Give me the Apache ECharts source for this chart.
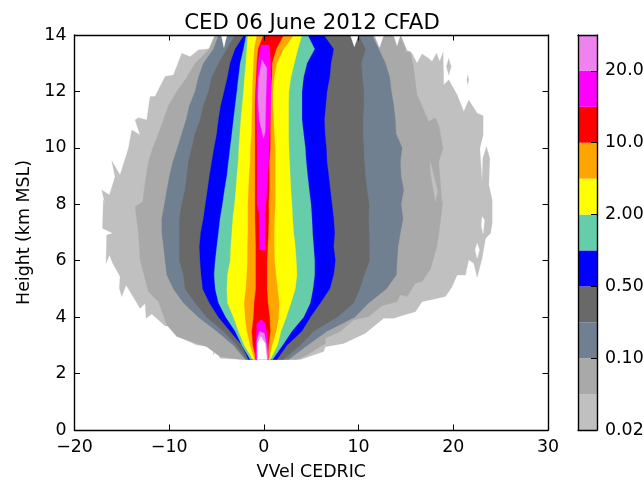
<!DOCTYPE html>
<html>
<head>
<meta charset="utf-8">
<style>html,body{margin:0;padding:0;background:#fff}#c{width:644px;height:480px}</style>
<script src="https://cdn.jsdelivr.net/npm/echarts@6/dist/echarts.min.js"></script>
</head>
<body>
<div id="c"></div>
<script>
const heights = [2.5,3,3.5,4,4.5,5,5.5,6,6.5,7,7.5,8,8.5,9,9.5,10,10.5,11,11.5,12,12.5,13,13.5,14];

const slateLeft = [-1.97,-3.21,-4.97,-6.91,-8.49,-9.55,-10.25,-10.43,-10.60,-10.78,-10.78,-10.50,-10.25,-9.97,-9.62,-9.13,-8.67,-8.21,-7.86,-7.26,-6.91,-6.38,-5.32,-4.79];
const slateRight = [2.61,4.61,6.66,9.58,11.06,12.93,13.99,14.06,14.17,14.41,14.69,14.48,14.76,14.48,14.41,14.59,13.95,13.88,13.71,13.46,13.28,12.83,12.12,11.41];
const dimLeft = [-1.80,-2.85,-4.26,-6.03,-7.26,-8.32,-8.49,-8.91,-8.91,-8.91,-8.91,-8.67,-8.32,-8.14,-7.96,-7.61,-7.26,-6.73,-6.38,-5.85,-5.50,-4.79,-3.91,-3.03];
const dimRight = [2.05,3.84,5.25,7.72,9.48,10.11,10.6,11.13,11.13,11.10,11.06,11.10,10.89,10.71,10.6,10.54,10.46,10.46,10.54,10.54,10.39,10.29,10.71,10.0];
const blueLeft = [-1.62,-2.33,-3.56,-4.79,-5.74,-6.45,-6.62,-6.73,-6.80,-6.66,-6.38,-6.17,-5.95,-5.74,-5.50,-5.25,-4.97,-4.79,-4.55,-4.19,-3.84,-3.56,-3.03,-2.08];
const blueRight = [1.37,2.43,4.0,4.9,5.95,6.94,7.36,7.54,7.36,7.47,7.36,7.19,7.01,6.84,6.66,6.59,6.45,6.38,6.52,6.66,6.94,7.08,7.36,6.31];
const aquaLeft = [-1.44,-2.33,-3.03,-4.02,-4.79,-5.14,-5.25,-5.14,-4.97,-4.79,-4.62,-4.37,-4.16,-3.91,-3.74,-3.56,-3.38,-3.21,-3.03,-2.85,-2.68,-2.50,-2.15,-1.87];
const aquaRight = [0.92,1.97,2.96,4.19,4.90,5.18,5.36,5.36,5.25,5.14,5.07,4.97,4.79,4.62,4.47,4.37,4.19,4.02,4.02,4.02,4.19,4.55,5.36,4.62];
const yellowLeft = [-1.16,-2.08,-2.68,-3.21,-3.84,-3.91,-3.84,-3.56,-3.49,-3.38,-3.28,-3.10,-2.96,-2.85,-2.71,-2.64,-2.54,-2.43,-2.29,-2.15,-2.04,-1.90,-1.80,-1.69];
const yellowRight = [0.67,1.44,1.80,2.36,2.85,3.31,3.49,3.42,3.31,3.14,3.03,2.96,2.85,2.78,2.71,2.64,2.61,2.61,2.61,2.64,2.85,3.21,3.59,4.02];
const orangeLeft = [-0.99,-1.44,-1.80,-1.97,-2.08,-1.90,-1.80,-1.73,-1.73,-1.69,-1.69,-1.69,-1.62,-1.55,-1.44,-1.41,-1.30,-1.27,-1.23,-1.20,-1.16,-1.09,-1.02,-0.74];
const orangeRight = [0.53,0.85,1.30,1.55,1.62,1.44,1.27,1.13,1.09,1.09,1.13,1.20,1.20,1.20,1.20,1.20,1.09,1.02,0.95,0.95,1.09,1.37,2.08,3.14];
const redLeft = [-0.81,-1.16,-1.27,-1.09,-1.02,-0.85,-0.85,-0.85,-0.85,-0.88,-0.92,-0.92,-0.92,-0.92,-0.92,-0.92,-0.92,-0.92,-0.92,-0.88,-0.81,-0.74,-0.60,-0.04];
const redRight = [0.39,0.49,0.67,0.60,0.42,0.32,0.32,0.32,0.39,0.46,0.49,0.49,0.56,0.56,0.56,0.67,0.67,0.67,0.67,0.67,0.85,0.85,1.30,2.08];

const lightOutline = [[-2.15,2.5],[-4.62,2.54],[-4.97,2.95],[-5.32,2.66],[-5.32,2.95],[-7.08,3.01],[-9.02,3.31],[-9.90,3.69],[-10.43,3.69],[-11.84,4.11],[-12.44,3.96],[-12.54,4.49],[-13.07,4.31],[-14.55,5.14],[-15.01,4.73],[-15.26,5.02],[-15.19,5.44],[-15.96,5.91],[-16.31,6.20],[-16.67,5.91],[-16.60,6.91],[-15.96,6.97],[-17.05,7.15],[-16.95,8.15],[-16.77,7.98],[-17.12,8.51],[-16.31,8.33],[-15.72,8.98],[-16.07,9.54],[-15.19,9.04],[-14.31,9.98],[-13.95,10.63],[-13.07,10.46],[-13.60,10.99],[-13.25,11.07],[-12.37,10.99],[-12.02,11.82],[-11.49,11.82],[-10.43,12.53],[-9.55,12.58],[-8.67,13.35],[-7.79,13.23],[-6.91,13.47],[-5.32,13.53],[-4.97,13.94],[-4.79,14],[14.41,14],[15.05,13.47],[15.64,13.35],[16.17,13.0],[16.70,13.33],[17.41,13.17],[17.76,13.06],[18.22,13.35],[18.57,13.06],[18.92,13.39],[18.99,12.23],[19.52,12.41],[20.40,11.88],[21.11,11.28],[21.63,11.70],[22.52,11.23],[23.15,11.14],[23.15,10.46],[22.80,9.98],[23.04,8.80],[23.12,9.63],[23.50,10.04],[23.85,9.63],[23.75,8.69],[24.10,8.15],[24.10,7.33],[23.93,6.97],[23.40,6.79],[23.04,6.09],[22.52,5.41],[22.16,5.91],[21.63,6.03],[21.28,5.49],[20.40,5.49],[19.87,5.08],[19.17,4.73],[16.70,4.55],[16.0,4.19],[14.76,4.08],[13.71,3.96],[12.65,3.96],[10.71,3.43],[8.42,3.07],[6.48,2.95],[6.31,2.78],[3.84,2.5]];
const grayOutline = [[-2.33,2.5],[-4.62,2.6],[-6.03,2.95],[-7.08,3.07],[-9.20,3.31],[-10.25,3.72],[-11.13,4.55],[-12.19,4.90],[-13.07,6.03],[-13.25,6.97],[-13.60,7.92],[-12.79,8.09],[-12.65,8.51],[-12.44,9.0],[-12.19,9.5],[-11.73,10.0],[-11.13,10.5],[-10.61,11.0],[-10.08,11.5],[-9.20,12.0],[-8.14,12.5],[-7.26,13.0],[-6.20,13.35],[-5.85,13.47],[-5.25,13.94],[-4.97,14],[13.07,14],[14.41,14],[15.05,13.47],[14.69,13.41],[15.47,13.41],[15.82,12.82],[16.17,11.88],[17.41,10.93],[18.11,11.07],[18.46,10.81],[18.92,9.98],[18.46,9.51],[18.81,7.98],[18.92,8.15],[18.46,6.91],[18.22,6.44],[17.58,5.70],[16.70,5.26],[16.0,5.2],[15.12,4.73],[14.41,4.79],[14.06,4.55],[12.47,4.40],[11.06,4.02],[9.48,3.90],[8.07,3.49],[6.48,3.25],[6.48,3.07],[4.55,2.66],[3.84,2.54],[3.4,2.5]];
const grayInnerSlit = [[17.58,9.51],[18.36,8.45],[18.11,8.10],[17.58,9.15]];
const lightIslandA = [[19.52,13.17],[19.77,12.88],[19.52,12.58],[19.27,12.88]];
const lightIslandB = [[21.53,12.58],[21.63,12.41],[21.53,12.25],[21.43,12.41]];
const magentaUpper = [[-0.46,6.40],[0.14,6.35],[0.14,7.68],[0.25,8.15],[0.42,9.0],[0.56,10.0],[0.67,11.05],[0.78,12.2],[0.67,13.17],[0.56,13.65],[-0.32,13.65],[-0.63,13.06],[-0.81,12.0],[-0.74,10.0],[-0.74,8.0],[-0.49,7.68]];
const violetUpper = [[-0.21,13.12],[0.32,12.82],[0.21,11.76],[0.14,10.58],[-0.04,10.34],[-0.49,10.99],[-0.63,11.76],[-0.56,12.47]];
const magentaLower = [[-0.92,2.5],[-0.81,3.19],[-0.74,3.78],[-0.28,3.92],[0.14,3.78],[0.39,3.19],[0.49,2.5]];
const violetLower = [[-0.74,2.5],[-0.74,3.19],[-0.46,3.49],[0.04,3.43],[0.32,2.95],[0.42,2.5]];
const whiteCore = [[-0.67,2.5],[-0.67,3.07],[-0.32,3.31],[0.14,3.07],[0.32,2.5]];
const holeA = [[23.04,7.56],[23.29,7.44],[23.15,6.97],[22.97,7.21]];
const holeB = [[22.52,6.62],[22.76,6.38],[22.52,6.09],[22.31,6.38]];
const notchA = [[-4.50,14],[-4.22,13.56],[-3.90,14]];
const notchB = [[9.13,14],[9.55,13.58],[10.0,14]];
const notchC = [[11.66,14],[12.2,13.56],[12.66,14]];
const notchD = [[13.70,14],[14.06,13.62],[14.41,14]];

const colors = ['#C0C0C0','#A9A9A9','#708090','#696969','#0000FF','#66CDAA','#FFFF00','#FFA500','#FF0000','#FF00FF','#EE82EE'];
const cbarTicks = ['0.02','0.10','0.50','2.00','10.0','20.0'];
const xTicks = [-20,-10,0,10,20,30];
const yTicks = [0,2,4,6,8,10,12,14];

const band = (l, r) => l.map((x, i) => [x, heights[i]]).concat(r.map((x, i) => [x, heights[i]]).reverse());

const shapes = [
  [lightOutline, colors[0]], [holeA, '#fff'], [holeB, '#fff'],
  [lightIslandA, colors[0]], [lightIslandB, colors[0]],
  [grayOutline, colors[1]], [grayInnerSlit, colors[0]],
  [band(slateLeft, slateRight), colors[2]],
  [band(dimLeft, dimRight), colors[3]],
  [band(blueLeft, blueRight), colors[4]],
  [band(aquaLeft, aquaRight), colors[5]],
  [band(yellowLeft, yellowRight), colors[6]],
  [band(orangeLeft, orangeRight), colors[7]],
  [band(redLeft, redRight), colors[8]],
  [magentaUpper, colors[9]], [violetUpper, colors[10]],
  [magentaLower, colors[9]], [violetLower, colors[10]], [whiteCore, '#fff'],
  [notchA, '#fff'], [notchB, '#fff'], [notchC, '#fff'], [notchD, '#fff']
];

const font = 'DejaVu Sans';
const fs = 17.4;
const line = {show:true, onZero:false, lineStyle:{color:'#000', width:1.4}};
const tick = {show:true, inside:true, length:5.5, lineStyle:{color:'#000', width:1}};
const lbl = {color:'#000', fontFamily:font, fontSize:fs};

const contourSeries = shapes.map(([pts, color]) => ({
  type:'custom', xAxisIndex:0, yAxisIndex:0, clip:true, silent:true,
  data:pts, encode:{x:0, y:1},
  renderItem:(params, api) => params.dataIndex !== 0 ? null : ({
    type:'polygon',
    shape:{points:pts.map(p => api.coord(p))},
    style:{fill:color, stroke:color, lineWidth:0.3}
  })
}));

const cbarSeries = colors.map(c => ({
  type:'bar', xAxisIndex:2, yAxisIndex:2, stack:'cb', barWidth:'100%', silent:true,
  data:[1], itemStyle:{color:c}
}));

const chart = echarts.init(document.getElementById('c'), null, {renderer:'canvas'});
chart.setOption({
  animation:false,
  backgroundColor:'#fff',
  title:{text:'CED 06 June 2012 CFAD', left:307, top:7.5, textAlign:'center',
    textStyle:{color:'#000', fontFamily:font, fontSize:21.3, fontWeight:'normal'}},
  grid:[
    {left:74.5, top:35, width:473.5, height:395, outerBoundsMode:'none'},
    {left:578, top:35, width:19, height:395, outerBoundsMode:'none'}
  ],
  xAxis:[
    {type:'value', gridIndex:0, min:-20, max:30, interval:10, position:'bottom', z:10,
      name:'VVel CEDRIC', nameLocation:'middle', nameGap:34,
      nameTextStyle:{color:'#000', fontFamily:font, fontSize:fs},
      axisLine:line, axisTick:tick, splitLine:{show:false},
      axisLabel:{...lbl, margin:9, formatter:v => xTicks.includes(v) ? String(v).replace('-', '\u2212') : ''}},
    {type:'value', gridIndex:0, min:-20, max:30, interval:10, position:'top', z:10,
      axisLine:line, axisTick:tick, splitLine:{show:false}, axisLabel:{show:false}},
    {type:'category', gridIndex:1, data:[''], position:'bottom', z:10,
      axisLine:line, axisTick:{show:false}, axisLabel:{show:false}},
    {type:'category', gridIndex:1, data:[''], position:'top', z:10,
      axisLine:line, axisTick:{show:false}, axisLabel:{show:false}}
  ],
  yAxis:[
    {type:'value', gridIndex:0, min:0, max:14, interval:2, position:'left', z:10,
      name:'Height (km MSL)', nameLocation:'middle', nameGap:36, nameRotate:90,
      nameTextStyle:{color:'#000', fontFamily:font, fontSize:fs},
      axisLine:line, axisTick:tick, splitLine:{show:false},
      axisLabel:{...lbl, margin:8, formatter:v => yTicks.includes(v) ? String(v) : ''}},
    {type:'value', gridIndex:0, min:0, max:14, interval:2, position:'right', z:10,
      axisLine:line, axisTick:tick, splitLine:{show:false}, axisLabel:{show:false}},
    {type:'value', gridIndex:1, min:0, max:11, interval:2, position:'right', z:10,
      axisLine:line, axisTick:{...tick, length:6}, splitLine:{show:false},
      axisLabel:{...lbl, margin:8, showMaxLabel:false, formatter:v => cbarTicks[v/2] || ''}},
    {type:'value', gridIndex:1, min:0, max:11, interval:2, position:'left', z:10,
      axisLine:line, axisTick:{show:false}, splitLine:{show:false}, axisLabel:{show:false}}
  ],
  series:contourSeries.concat(cbarSeries)
});
</script>
</body>
</html>
